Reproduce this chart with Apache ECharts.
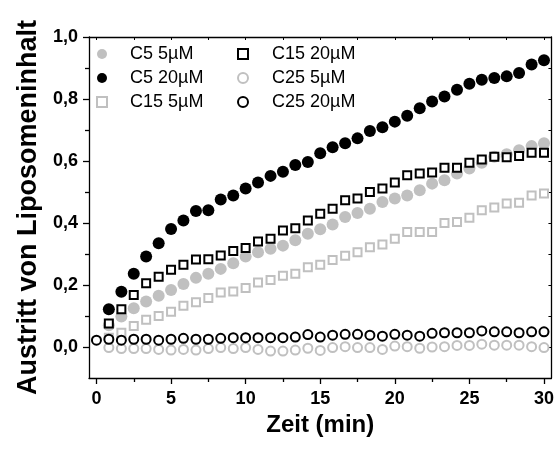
<!DOCTYPE html>
<html>
<head>
<meta charset="utf-8">
<script src="https://cdn.jsdelivr.net/npm/echarts@6/dist/echarts.min.js"></script>
<style>html,body{margin:0;padding:0;background:#fff}#c{width:557px;height:449px}</style>
</head>
<body>
<div id="c"></div>
<script>
var times = [0, 0.83, 1.67, 2.5, 3.33, 4.17, 5, 5.83, 6.67, 7.5, 8.33, 9.17, 10, 10.83, 11.67, 12.5, 13.33, 14.17, 15, 15.83, 16.67, 17.5, 18.33, 19.17, 20, 20.83, 21.67, 22.5, 23.33, 24.17, 25, 25.83, 26.67, 27.5, 28.33, 29.17, 30];
var c5_5 = [null, 0.07, 0.098, 0.125, 0.147, 0.165, 0.184, 0.203, 0.223, 0.236, 0.252, 0.27, 0.292, 0.306, 0.317, 0.327, 0.344, 0.365, 0.38, 0.395, 0.419, 0.432, 0.446, 0.468, 0.479, 0.489, 0.506, 0.527, 0.538, 0.56, 0.576, 0.594, 0.614, 0.622, 0.635, 0.648, 0.657];
var c5_20 = [null, 0.122, 0.178, 0.236, 0.292, 0.335, 0.381, 0.408, 0.439, 0.441, 0.476, 0.489, 0.511, 0.531, 0.552, 0.565, 0.587, 0.597, 0.625, 0.644, 0.657, 0.673, 0.697, 0.709, 0.727, 0.746, 0.77, 0.792, 0.808, 0.83, 0.849, 0.862, 0.868, 0.873, 0.884, 0.911, 0.925];
var c15_5 = [null, 0.03, 0.046, 0.068, 0.088, 0.1, 0.114, 0.133, 0.144, 0.158, 0.176, 0.179, 0.19, 0.208, 0.216, 0.23, 0.236, 0.257, 0.265, 0.281, 0.294, 0.306, 0.322, 0.331, 0.349, 0.371, 0.371, 0.371, 0.4, 0.403, 0.417, 0.441, 0.45, 0.463, 0.465, 0.489, 0.495];
var c15_20 = [null, 0.076, 0.122, 0.168, 0.206, 0.227, 0.249, 0.265, 0.282, 0.283, 0.295, 0.31, 0.319, 0.34, 0.349, 0.376, 0.383, 0.408, 0.43, 0.446, 0.473, 0.479, 0.5, 0.511, 0.531, 0.554, 0.56, 0.563, 0.578, 0.578, 0.594, 0.605, 0.614, 0.612, 0.616, 0.627, 0.627];
var c25_5 = [null, -0.002, -0.005, -0.005, -0.005, -0.008, -0.01, -0.008, -0.01, -0.005, -0.002, -0.005, -0.002, -0.008, -0.013, -0.013, -0.01, -0.004, -0.011, -0.002, 0.001, -0.002, -0.002, -0.008, 0.003, 0.001, -0.004, 0.0, 0.001, 0.005, 0.005, 0.009, 0.006, 0.006, 0.006, 0.001, -0.002];
var c25_20 = [0.022, 0.025, 0.022, 0.025, 0.025, 0.022, 0.025, 0.028, 0.025, 0.025, 0.028, 0.03, 0.03, 0.03, 0.03, 0.03, 0.032, 0.04, 0.032, 0.038, 0.041, 0.041, 0.038, 0.035, 0.041, 0.038, 0.035, 0.044, 0.046, 0.046, 0.046, 0.052, 0.049, 0.049, 0.046, 0.049, 0.049];
var names = ['C5 5µM', 'C5 20µM', 'C15 5µM', 'C15 20µM', 'C25 5µM', 'C25 20µM'];
var xMajor = [0, 5, 10, 15, 20, 25, 30];
var xMinor = [2.5, 7.5, 12.5, 17.5, 22.5, 27.5];
var yMajor = [0, 0.2, 0.4, 0.6, 0.8, 1.0];
var yMinor = [0.1, 0.3, 0.5, 0.7, 0.9];

function pairs(arr) {
  var out = [];
  for (var i = 0; i < times.length; i++) {
    if (arr[i] !== null) out.push([times[i], arr[i]]);
  }
  return out;
}
var FONT = '"Liberation Sans", Arial, sans-serif';
var GRAY = '#c0c0c0';
var chart = echarts.init(document.getElementById('c'), null, {renderer: 'canvas'});
var lineStyle = {color: '#000', width: 1.3};
function xAx(extra) {
  return Object.assign({type: 'value', min: -0.5, max: 30.5, gridIndex: 0, splitLine: {show: false}}, extra);
}
function yAx(extra) {
  return Object.assign({type: 'value', min: -0.1, max: 1.0, gridIndex: 0, splitLine: {show: false}}, extra);
}
var option = {
  animation: false,
  backgroundColor: '#fff',
  grid: {left: 89, right: 4, top: 37, bottom: 71, containLabel: false},
  xAxis: [
    xAx({position: 'bottom', name: 'Zeit (min)', nameLocation: 'middle', nameGap: 35,
      nameTextStyle: {fontFamily: FONT, fontWeight: 'bold', fontSize: 24, color: '#000'},
      axisLine: {show: true, onZero: false, lineStyle: lineStyle},
      axisTick: {show: true, inside: false, length: 6, lineStyle: lineStyle, customValues: xMajor},
      axisLabel: {show: true, margin: 12, fontFamily: FONT, fontWeight: 'bold', fontSize: 18, color: '#000', customValues: xMajor,
        formatter: function (v) { return String(v); }}}),
    xAx({position: 'bottom', axisLine: {show: false, onZero: false},
      axisTick: {show: true, inside: false, length: 4, lineStyle: lineStyle, customValues: xMinor},
      axisLabel: {show: false}}),
    xAx({position: 'top', axisLine: {show: true, onZero: false, lineStyle: lineStyle},
      axisTick: {show: true, inside: true, length: 3, lineStyle: {color: '#000', width: 1}, customValues: xMajor.concat(xMinor)},
      axisLabel: {show: false}})
  ],
  yAxis: [
    yAx({position: 'left', name: 'Austritt von Liposomeninhalt', nameLocation: 'middle', nameGap: 45,
      nameTextStyle: {fontFamily: FONT, fontWeight: 'bold', fontSize: 27, color: '#000'},
      axisLine: {show: true, onZero: false, lineStyle: lineStyle},
      axisTick: {show: true, inside: false, length: 6, lineStyle: lineStyle, customValues: yMajor},
      axisLabel: {show: true, margin: 11, fontFamily: FONT, fontWeight: 'bold', fontSize: 18, color: '#000', customValues: yMajor,
        formatter: function (v) { return v.toFixed(1).replace('.', ','); }}}),
    yAx({position: 'left', axisLine: {show: false, onZero: false},
      axisTick: {show: true, inside: false, length: 4, lineStyle: lineStyle, customValues: yMinor},
      axisLabel: {show: false}}),
    yAx({position: 'right', axisLine: {show: true, onZero: false, lineStyle: lineStyle},
      axisTick: {show: true, inside: true, length: 3, lineStyle: {color: '#000', width: 1}, customValues: yMajor.concat(yMinor)},
      axisLabel: {show: false}})
  ],
  legend: [
    {data: names.slice(0, 3), left: 91, top: 40, orient: 'vertical', itemWidth: 10, itemHeight: 10, itemGap: 6,
      textStyle: {fontFamily: FONT, fontSize: 18, color: '#000', lineHeight: 18, padding: [0, 0, 0, 18]}},
    {data: names.slice(3, 6), left: 232, top: 40, orient: 'vertical', itemWidth: 10, itemHeight: 10, itemGap: 6,
      textStyle: {fontFamily: FONT, fontSize: 18, color: '#000', lineHeight: 18, padding: [0, 0, 0, 19]}}
  ],
  series: [
    {name: names[0], type: 'scatter', data: pairs(c5_5), symbol: 'circle', symbolSize: 12,
      itemStyle: {color: GRAY, opacity: 1}},
    {name: names[1], type: 'scatter', data: pairs(c5_20), symbol: 'circle', symbolSize: 12,
      itemStyle: {color: '#000', opacity: 1}},
    {name: names[2], type: 'scatter', data: pairs(c15_5), symbol: 'rect', symbolSize: 8,
      itemStyle: {color: '#fff', borderColor: GRAY, borderWidth: 2, opacity: 1}},
    {name: names[3], type: 'scatter', data: pairs(c15_20), symbol: 'rect', symbolSize: 8,
      itemStyle: {color: '#fff', borderColor: '#000', borderWidth: 2, opacity: 1}},
    {name: names[4], type: 'scatter', data: pairs(c25_5), symbol: 'circle', symbolSize: 9,
      itemStyle: {color: '#fff', borderColor: GRAY, borderWidth: 2, opacity: 1}},
    {name: names[5], type: 'scatter', data: pairs(c25_20), symbol: 'circle', symbolSize: 9,
      itemStyle: {color: '#fff', borderColor: '#000', borderWidth: 2, opacity: 1}}
  ]
};
chart.setOption(option);
</script>
</body>
</html>
